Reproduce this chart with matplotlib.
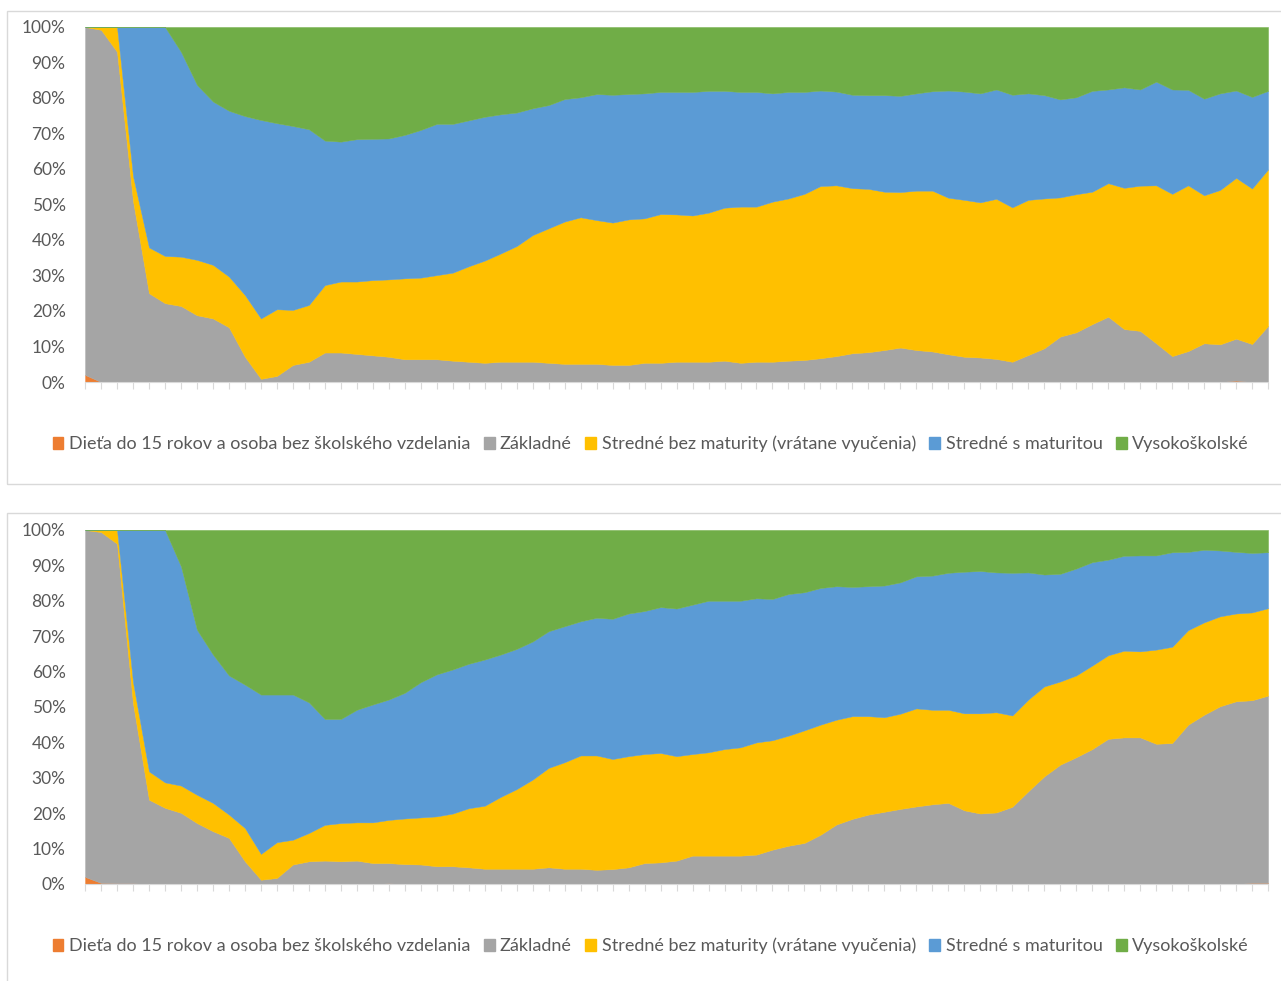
import numpy as np
import matplotlib
matplotlib.use("Agg")
import matplotlib.pyplot as plt
from matplotlib.patches import Rectangle

plt.rcParams['font.family'] = ['Lato', 'DejaVu Sans']

# category labels (legend)
labels = [
    "Dieťa do 15 rokov a osoba bez školského vzdelania",
    "Základné",
    "Stredné bez maturity (vrátane vyučenia)",
    "Stredné s maturitou",
    "Vysokoškolské",
]
colors = ["#ED7D31", "#A5A5A5", "#FFC000", "#5B9BD5", "#70AD47"]

ytick_labels = ["0%", "10%", "20%", "30%", "40%", "50%", "60%", "70%", "80%", "90%", "100%"]

# ---- chart 1 (shares in %, 75 categories) ----
top_orange = [2.0, 0, 0, 0, 0, 0, 0, 0, 0, 0,
              0, 0, 0, 0, 0, 0, 0, 0, 0, 0,
              0, 0, 0, 0, 0, 0, 0, 0, 0, 0,
              0, 0, 0, 0, 0, 0, 0, 0, 0, 0,
              0, 0, 0, 0, 0, 0, 0, 0, 0, 0,
              0, 0, 0, 0, 0, 0, 0, 0, 0, 0,
              0, 0, 0, 0, 0, 0, 0, 0, 0, 0,
              0, 0, 0.4, 0, 0]
top_gray = [98.0, 99.2, 93.0, 51.0, 25.0, 22.2, 21.4, 18.8, 17.9, 15.4,
            7.1, 0.9, 1.7, 4.8, 5.7, 8.3, 8.3, 7.9, 7.5, 7.1,
            6.4, 6.4, 6.4, 6.0, 5.7, 5.4, 5.7, 5.7, 5.7, 5.4,
            5.1, 5.1, 5.1, 4.8, 4.8, 5.4, 5.4, 5.7, 5.7, 5.7,
            6.0, 5.4, 5.7, 5.7, 6.0, 6.2, 6.7, 7.3, 8.1, 8.4,
            9.0, 9.7, 9.0, 8.6, 7.8, 7.1, 6.9, 6.5, 5.7, 7.6,
            9.5, 12.8, 14.0, 16.3, 18.4, 14.9, 14.4, 10.9, 7.3, 8.7,
            10.9, 10.6, 11.8, 10.7, 15.8]
top_yellow = [0, 0.8, 7.0, 7.0, 12.9, 13.3, 13.9, 15.6, 15.1, 14.3,
              17.4, 17.0, 18.8, 15.5, 16.0, 19.0, 20.0, 20.4, 21.2, 21.8,
              22.8, 23.0, 23.7, 24.8, 26.9, 28.8, 30.5, 32.6, 35.7, 37.9,
              40.1, 41.3, 40.5, 40.1, 41.0, 40.7, 41.9, 41.5, 41.2, 42.0,
              43.1, 44.0, 43.7, 45.1, 45.7, 46.8, 48.5, 48.1, 46.5, 46.0,
              44.6, 43.8, 44.9, 45.3, 44.1, 44.2, 43.7, 45.1, 43.5, 43.7,
              42.2, 39.2, 38.9, 37.3, 37.6, 39.8, 40.9, 44.5, 45.7, 46.7,
              41.7, 43.5, 45.3, 43.8, 44.1]
top_blue = [0, 0, 0, 42.0, 62.1, 64.5, 57.7, 49.3, 46.0, 46.7,
            50.4, 55.9, 52.4, 51.8, 49.5, 40.7, 39.4, 40.1, 39.8, 39.7,
            40.4, 41.6, 42.6, 41.9, 41.1, 40.5, 39.2, 37.6, 35.7, 34.7,
            34.5, 33.8, 35.5, 36.0, 35.3, 35.2, 34.4, 34.5, 34.8, 34.3,
            32.9, 32.3, 32.3, 30.5, 30.0, 28.7, 26.9, 26.4, 26.3, 26.4,
            27.2, 27.1, 27.4, 28.0, 30.2, 30.5, 30.7, 30.8, 31.7, 30.0,
            29.1, 27.6, 27.3, 28.4, 26.4, 28.3, 27.1, 29.2, 29.4, 26.9,
            27.2, 27.2, 24.6, 25.8, 22.1]
top_green = [0, 0, 0, 0, 0, 0, 7.0, 16.3, 21.0, 23.6,
             25.1, 26.2, 27.1, 27.9, 28.8, 32.0, 32.3, 31.6, 31.5, 31.4,
             30.4, 29.0, 27.3, 27.3, 26.3, 25.3, 24.6, 24.1, 22.9, 22.0,
             20.3, 19.8, 18.9, 19.1, 18.9, 18.7, 18.3, 18.3, 18.3, 18.0,
             18.0, 18.3, 18.3, 18.7, 18.3, 18.3, 17.9, 18.2, 19.1, 19.2,
             19.2, 19.4, 18.7, 18.1, 17.9, 18.2, 18.7, 17.6, 19.1, 18.7,
             19.2, 20.4, 19.8, 18.0, 17.6, 17.0, 17.6, 15.4, 17.6, 17.7,
             20.2, 18.7, 17.9, 19.7, 18.0]

# ---- chart 2 ----
bot_orange = [2.0, 0.3, 0.2, 0.2, 0, 0, 0, 0, 0, 0,
              0, 0, 0, 0, 0, 0, 0, 0, 0, 0.2,
              0, 0, 0, 0, 0, 0, 0, 0, 0, 0,
              0, 0, 0, 0, 0, 0, 0, 0, 0, 0,
              0, 0, 0, 0, 0, 0, 0, 0, 0, 0,
              0, 0, 0, 0, 0, 0, 0, 0, 0, 0,
              0, 0, 0, 0, 0, 0, 0, 0, 0, 0,
              0, 0, 0, 0.3, 0.3]
bot_gray = [98.0, 99.1, 95.9, 50.8, 23.8, 21.5, 20.1, 17.2, 14.9, 13.0,
            6.4, 1.2, 1.7, 5.5, 6.4, 6.6, 6.4, 6.6, 5.9, 5.7,
            5.6, 5.5, 5.0, 5.0, 4.7, 4.3, 4.3, 4.3, 4.3, 4.7,
            4.3, 4.3, 4.0, 4.2, 4.7, 5.9, 6.1, 6.6, 8.0, 8.0,
            8.0, 8.0, 8.3, 9.7, 10.8, 11.6, 13.9, 16.8, 18.4, 19.6,
            20.4, 21.2, 21.9, 22.5, 22.9, 20.8, 19.9, 20.2, 21.8, 26.2,
            30.4, 33.7, 35.8, 38.1, 41.0, 41.4, 41.4, 39.6, 39.8, 45.0,
            47.8, 50.2, 51.6, 51.6, 52.9]
bot_yellow = [0, 0.6, 3.9, 6.0, 8.0, 7.2, 7.7, 8.0, 8.0, 6.6,
              9.4, 7.3, 10.1, 7.0, 8.0, 10.1, 10.8, 10.8, 11.5, 12.2,
              12.9, 13.3, 14.1, 14.9, 16.7, 17.8, 20.3, 22.5, 25.2, 28.1,
              30.1, 32.0, 32.3, 31.1, 31.4, 30.8, 30.9, 29.5, 28.7, 29.2,
              30.1, 30.6, 31.7, 30.9, 31.1, 31.8, 31.1, 29.6, 29.0, 27.8,
              26.7, 26.9, 27.7, 26.7, 26.3, 27.4, 28.3, 28.3, 25.8, 25.9,
              25.4, 23.5, 23.1, 23.6, 23.6, 24.5, 24.3, 26.6, 27.2, 26.7,
              26.1, 25.4, 24.8, 24.8, 24.7]
bot_blue = [0, 0, 0, 43.0, 68.2, 71.3, 61.9, 46.6, 41.9, 39.3,
            40.5, 45.0, 41.7, 41.0, 36.9, 29.9, 29.4, 31.8, 33.3, 34.0,
            35.5, 38.2, 40.1, 40.7, 40.8, 41.3, 40.2, 39.6, 39.0, 38.6,
            38.4, 37.9, 38.9, 39.6, 40.3, 40.4, 41.2, 41.7, 42.2, 42.8,
            41.9, 41.4, 40.7, 39.9, 40.0, 39.0, 38.6, 37.7, 36.5, 36.7,
            37.2, 37.1, 37.3, 37.9, 38.7, 40.0, 40.2, 39.5, 40.3, 35.9,
            31.6, 30.4, 30.2, 29.2, 27.0, 26.8, 27.1, 26.6, 26.7, 22.1,
            20.5, 18.6, 17.4, 16.8, 15.8]
bot_green = [0, 0, 0, 0, 0, 0, 10.3, 28.2, 35.2, 41.1,
             43.7, 46.5, 46.5, 46.5, 48.7, 53.4, 53.4, 50.8, 49.3, 47.9,
             46.0, 43.0, 40.8, 39.4, 37.8, 36.6, 35.2, 33.6, 31.5, 28.6,
             27.2, 25.8, 24.8, 25.1, 23.6, 22.9, 21.8, 22.2, 21.1, 20.0,
             20.0, 20.0, 19.3, 19.5, 18.1, 17.6, 16.4, 15.9, 16.1, 15.9,
             15.7, 14.8, 13.1, 12.9, 12.1, 11.8, 11.6, 12.0, 12.1, 12.0,
             12.6, 12.4, 10.9, 9.1, 8.4, 7.3, 7.2, 7.2, 6.3, 6.2,
             5.6, 5.8, 6.2, 6.5, 6.3]


def draw_chart(fig, rect, series, legend_y):
    ax = fig.add_axes(rect)
    x = np.arange(len(series[0]))
    arr = np.array(series, dtype=float)
    arr = arr / arr.sum(axis=0) * 100  # 100% stacked like excel
    polys = ax.stackplot(x, *arr, colors=colors, labels=labels, linewidth=0)
    for p in polys:
        p.set_edgecolor("face")
        p.set_linewidth(0.3)

    ax.set_xlim(0, len(x) - 1)
    ax.set_ylim(0, 100)
    ax.set_yticks(np.arange(0, 101, 10))
    ax.set_yticklabels(ytick_labels, fontsize=12.5, color="#595959")
    ax.tick_params(axis="y", length=0, pad=14)
    ax.set_xticks(x)
    ax.set_xticklabels([])
    ax.tick_params(axis="x", length=5, color="#d9d9d9", width=0.8)
    for s in ["top", "right", "left"]:
        ax.spines[s].set_visible(False)
    ax.spines["bottom"].set_color("#d9d9d9")
    ax.spines["bottom"].set_zorder(5)

    handles = [Rectangle((0, 0), 1, 1, color=c) for c in colors]
    fig.legend(handles, labels, loc="center", bbox_to_anchor=(0.508, legend_y),
               ncol=5, frameon=False, fontsize=13, labelcolor="#595959",
               handlelength=0.6, handleheight=0.6, handletextpad=0.3,
               columnspacing=0.75)
    return ax


fig = plt.figure(figsize=(12.81, 9.81), dpi=100)

# chart area borders
fig.patches.append(Rectangle((0.0055, 0.5066), 1.1, 0.4822, transform=fig.transFigure,
                             fill=False, edgecolor="#d9d9d9", linewidth=1))
fig.patches.append(Rectangle((0.0055, -0.1), 1.1, 0.5771, transform=fig.transFigure,
                             fill=False, edgecolor="#d9d9d9", linewidth=1))

draw_chart(fig, [0.0664, 0.6106, 0.9235, 0.3619],
           [top_orange, top_gray, top_yellow, top_blue, top_green], 0.5474)
draw_chart(fig, [0.0664, 0.0989, 0.9235, 0.3609],
           [bot_orange, bot_gray, bot_yellow, bot_blue, bot_green], 0.0357)

fig.savefig("out.png", dpi=100)
